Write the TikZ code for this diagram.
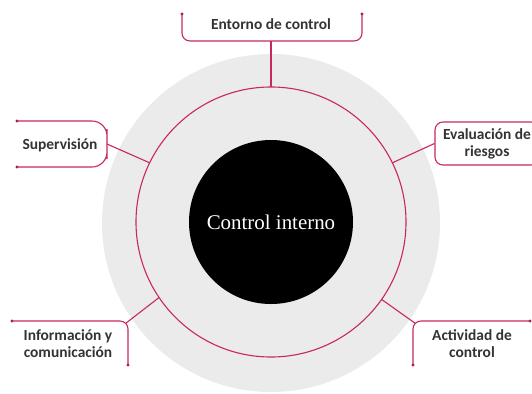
\documentclass[tikz,border=0pt]{standalone}
\usepackage{fontspec}
\usepackage{xcolor}
\newfontfamily\compfont{Carlito}
\newfontfamily\corefont{Liberation Serif}
\definecolor{ctrlpink}{HTML}{C8285C}
\definecolor{ctrlgrey}{HTML}{EBEBEB}
\definecolor{ctrltext}{HTML}{333333}

\begin{document}
\begin{tikzpicture}[
        x=1bp, y=1bp,
        ring/.style={
            circle,
            draw=ctrlpink,
            line width=1.1bp,
            minimum size=270bp,
            inner sep=0pt,
            outer sep=0pt
        },
        core/.style={
            circle,
            fill=black,
            text=white,
            minimum size=164bp,
            font=\corefont\fontsize{21}{25}\selectfont
        },
        comp/.style={
            font=\compfont\bfseries\fontsize{15.5}{17}\selectfont,
            text=ctrltext,
            align=center,
            inner sep=0pt
        },
        bracket/.style={draw=ctrlpink, line width=1.1bp, rounded corners=8bp},
        link/.style={draw=ctrlpink, line width=1.1bp},
        tip/.style={circle, fill=ctrlpink!75!black, inner sep=0pt, minimum size=3.4bp}
    ]
        \useasboundingbox (-271,-171) rectangle (261,222);
        \fill[ctrlgrey] (0,-1) circle (169);
        \node[ring] (ring) at (0,0) {};
        \node[core] (core) at (0,0) {Control interno};

        % Entorno de control
        \node[comp] (entorno) at (0,198) {Entorno de control};
        \node[tip] (entornoA) at (-89,208) {};
        \node[tip] (entornoB) at (91,208) {};
        \coordinate (entornoJ) at (0,181);
        \draw[bracket] (entornoA.center) |- (entornoJ) -| (entornoB.center);
        \draw[link] (ring.90) -- (entornoJ);

        % Supervision
        \node[comp] (super) at (-211,77) {Supervisión};
        \node[tip] (superA) at (-254,101) {};
        \node[tip] (superB) at (-254,55) {};
        \coordinate (superJ) at (-164,78);
        \draw[bracket, rounded corners=15bp] (superA.center) -| (superJ) |- (superB.center);
        \draw[link] (ring.154) -- (superJ);

        % Evaluacion de riesgos
        \node[comp, draw=ctrlpink, line width=1.1bp, rounded corners=8bp,
            minimum width=104bp, minimum height=43bp] (evalua) at (216,78.5)
            {Evaluación de\\riesgos};
        \draw[link] (ring.26) -- (evalua.west);

        % Informacion y comunicacion
        \node[comp] (info) at (-203,-121.5) {Información y\\comunicación};
        \node[tip] (infoA) at (-259,-99) {};
        \node[tip] (infoB) at (-143,-143) {};
        \coordinate (infoJ) at (-145.5,-101.5);
        \draw[bracket] (infoA.center) -| (infoB.center);
        \draw[link] (ring.214) -- (infoJ);

        % Actividad de control
        \node[comp] (activ) at (201,-121.5) {Actividad de\\control};
        \node[tip] (activA) at (259,-99) {};
        \node[tip] (activB) at (142,-143) {};
        \coordinate (activJ) at (144.5,-101.5);
        \draw[bracket] (activA.center) -| (activB.center);
        \draw[link] (ring.-35) -- (activJ);
    \end{tikzpicture}
\end{document}
